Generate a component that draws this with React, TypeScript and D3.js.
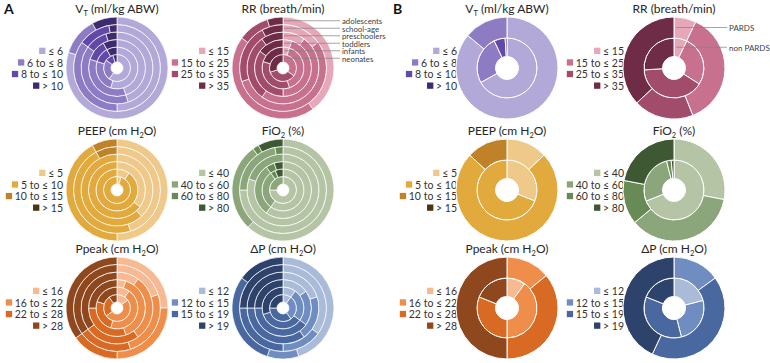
import * as d3 from 'd3';

// ring order: innermost first
const ageGroups = ['neonates', 'infants', 'toddlers', 'preschoolers', 'school-age', 'adolescents'];
const cohorts = ['non PARDS', 'PARDS'];

const vtBins = ['≤ 6', '6 to ≤ 8', '8 to ≤ 10', '> 10'];
const rrBins = ['≤ 15', '15 to ≤ 25', '25 to ≤ 35', '> 35'];
const peepBins = ['≤ 5', '5 to ≤ 10', '10 to ≤ 15', '> 15'];
const fio2Bins = ['≤ 40', '40 to ≤ 60', '60 to ≤ 80', '> 80'];
const ppeakBins = ['≤ 16', '16 to ≤ 22', '22 to ≤ 28', '> 28'];
const dpBins = ['≤ 12', '12 to ≤ 15', '15 to ≤ 19', '> 19'];

const vtColors = ['#b3a9d8', '#8d7bc4', '#6249a8', '#3e2b6e'];
const rrColors = ['#e6a7b8', '#c8718f', '#a24c6b', '#6e2c47'];
const peepColors = ['#efc98a', '#e2a93c', '#bf8228', '#4d3512'];
const fio2Colors = ['#b6c4a6', '#8ba67a', '#688a55', '#3f5834'];
const ppeakColors = ['#f6b992', '#ef8d4a', '#d86a23', '#8f471d'];
const dpColors = ['#a9bbd9', '#6f8dc0', '#4a68a0', '#2e436b'];

// panel A: % per age group (inner -> outer)
const vtByAge = [
  [60, 25, 10, 5],
  [55, 25, 12, 8],
  [45, 35, 12, 8],
  [45, 40, 10, 5],
  [50, 35, 12, 3],
  [80, 12, 0, 8],
];
const rrByAge = [
  [0, 35, 35, 30],
  [5, 40, 35, 20],
  [5, 45, 35, 15],
  [10, 50, 30, 10],
  [15, 55, 22, 8],
  [40, 45, 10, 5],
];
const peepByAge = [
  [5, 95, 0, 0],
  [10, 90, 0, 0],
  [35, 65, 0, 0],
  [38, 62, 0, 0],
  [45, 47, 8, 0],
  [50, 42, 8, 0],
];
const fio2ByAge = [
  [75, 25, 0, 0],
  [60, 30, 4, 6],
  [60, 30, 5, 5],
  [80, 20, 0, 0],
  [75, 22, 3, 0],
  [62, 28, 2, 8],
];
const ppeakByAge = [
  [15, 50, 25, 10],
  [10, 45, 25, 20],
  [5, 40, 30, 25],
  [10, 30, 25, 35],
  [20, 25, 20, 35],
  [25, 25, 15, 35],
];
const dpByAge = [
  [10, 30, 35, 25],
  [10, 25, 35, 30],
  [15, 20, 40, 25],
  [20, 20, 35, 25],
  [35, 15, 25, 25],
  [45, 10, 30, 15],
];

// panel B: % per cohort (non PARDS inner, PARDS outer)
const vtByCohort = [
  [67, 26, 6, 1],
  [86, 14, 0, 0],
];
const rrByCohort = [
  [7, 27, 40, 26],
  [7, 37, 19, 37],
];
const peepByCohort = [
  [31, 69, 0, 0],
  [13, 74, 13, 0],
];
const fio2ByCohort = [
  [69, 27, 2.5, 1.5],
  [28, 36, 14, 22],
];
const ppeakByCohort = [
  [10, 40, 31, 19],
  [0, 14, 36, 50],
];
const dpByCohort = [
  [21, 25, 35, 19],
  [0, 15, 42, 43],
];

const charts = [
  { title: 'V_T (ml/kg ABW)', bins: vtBins, colors: vtColors, a: vtByAge, b: vtByCohort, row: 0, col: 0 },
  { title: 'RR (breath/min)', bins: rrBins, colors: rrColors, a: rrByAge, b: rrByCohort, row: 0, col: 1, labels: true },
  { title: 'PEEP (cm H_2O)', bins: peepBins, colors: peepColors, a: peepByAge, b: peepByCohort, row: 1, col: 0 },
  { title: 'FiO_2 (%)', bins: fio2Bins, colors: fio2Colors, a: fio2ByAge, b: fio2ByCohort, row: 1, col: 1 },
  { title: 'Ppeak (cm H_2O)', bins: ppeakBins, colors: ppeakColors, a: ppeakByAge, b: ppeakByCohort, row: 2, col: 0 },
  { title: 'ΔP (cm H_2O)', bins: dpBins, colors: dpColors, a: dpByAge, b: dpByCohort, row: 2, col: 1 },
];

const W = 770;
const H = 363;
const colsA = [117, 283];
const colsB = [507, 674];
const rows = [68, 190, 308];
const FONT = 'Lato, "Open Sans", sans-serif';

const ctx = document.createElement('canvas').getContext('2d');
function textWidth(s: string, size: number) {
  if (!ctx) return s.length * size * 0.5;
  ctx.font = `${size}px Lato`;
  return ctx.measureText(s).width;
}

function Title({ x, y, text }: { x: number; y: number; text: string }) {
  const parts = text.split(/_(\w)/);
  return (
    <text x={x} y={y} textAnchor="middle" fontFamily={FONT} fontSize={12} fill="#262626">
      {parts.map((p, i) =>
        i % 2 === 1 ? (
          <tspan key={i} fontSize={7.5} dy={3}>
            {p}
          </tspan>
        ) : (
          <tspan key={i} dy={i > 0 ? -3 : 0}>
            {p}
          </tspan>
        )
      )}
    </text>
  );
}

function Legend({ right, cy, bins, colors }: { right: number; cy: number; bins: string[]; colors: string[] }) {
  const fs = 10.5;
  return (
    <g>
      {bins.map((b, i) => {
        const y = cy - 17 + i * 11.6;
        const w = textWidth(b, fs);
        return (
          <g key={b}>
            <rect x={right - w - 9} y={y - 3.3} width={6.3} height={6.3} fill={colors[i]} />
            <text x={right} y={y} textAnchor="end" dominantBaseline="central" fontFamily={FONT} fontSize={fs} fill="#333">
              {b}
            </text>
          </g>
        );
      })}
    </g>
  );
}

function Rings({ cx, cy, data, colors, radius, strokeW }: any) {
  const pie = d3.pie<number>().sort(null).value((d) => d);
  const arc = d3.arc<d3.PieArcDatum<number>>();
  return (
    <g transform={`translate(${cx},${cy})`}>
      {data.map((ring: number[], ri: number) =>
        pie(ring).map((s, si) =>
          s.value > 0 ? (
            <path
              key={`${ri}-${si}`}
              d={arc.innerRadius(radius(ri)).outerRadius(radius(ri + 1))(s) || ''}
              fill={colors[si]}
              stroke="#fff"
              strokeWidth={strokeW}
            />
          ) : null
        )
      )}
    </g>
  );
}

export default function App() {
  const radiusA = d3.scaleLinear().domain([0, ageGroups.length]).range([6, 51]);
  const radiusB = d3.scaleOrdinal<number, number>().domain([0, 1, 2]).range([11.5, 30, 51]);

  return (
    <svg width={W} height={H} style={{ position: 'absolute', left: 0, top: 0, background: '#fff' }}>
      <text x={4} y={14} fontFamily={FONT} fontWeight="bold" fontSize={14} fill="#111">A</text>
      <text x={393} y={14} fontFamily={FONT} fontWeight="bold" fontSize={14} fill="#111">B</text>
      {charts.map((c) => {
        const cy = rows[c.row];
        const ax = colsA[c.col];
        const bx = colsB[c.col];
        return (
          <g key={c.title}>
            <Title x={ax} y={cy - 55} text={c.title} />
            <Legend right={ax - 54} cy={cy} bins={c.bins} colors={c.colors} />
            <Rings cx={ax} cy={cy} data={c.a} colors={c.colors} radius={radiusA} strokeW={0.7} />

            <Title x={bx} y={cy - 55} text={c.title} />
            <Legend right={bx - 50} cy={cy} bins={c.bins} colors={c.colors} />
            <Rings cx={bx} cy={cy} data={c.b} colors={c.colors} radius={radiusB} strokeW={1} />

            {c.labels &&
              ageGroups.map((g, i) => {
                const ly = cy - (radiusA(i) + radiusA(i + 1)) / 2;
                return (
                  <g key={g}>
                    <line x1={ax + 1} y1={ly} x2={ax + 57} y2={ly} stroke="#808080" strokeWidth={0.7} />
                    <text x={ax + 59} y={ly + 0.5} dominantBaseline="central" fontFamily={FONT} fontSize={7.8} fill="#404040">
                      {g}
                    </text>
                  </g>
                );
              })}
            {c.labels &&
              cohorts.map((g, i) => {
                const ly = cy - (radiusB(i) + radiusB(i + 1)) / 2;
                return (
                  <g key={g}>
                    <line x1={bx + 2} y1={ly} x2={bx + 53} y2={ly} stroke="#808080" strokeWidth={0.7} />
                    <text x={bx + 55} y={ly + 0.5} dominantBaseline="central" fontFamily={FONT} fontSize={8} fill="#404040">
                      {g}
                    </text>
                  </g>
                );
              })}
          </g>
        );
      })}
    </svg>
  );
}
